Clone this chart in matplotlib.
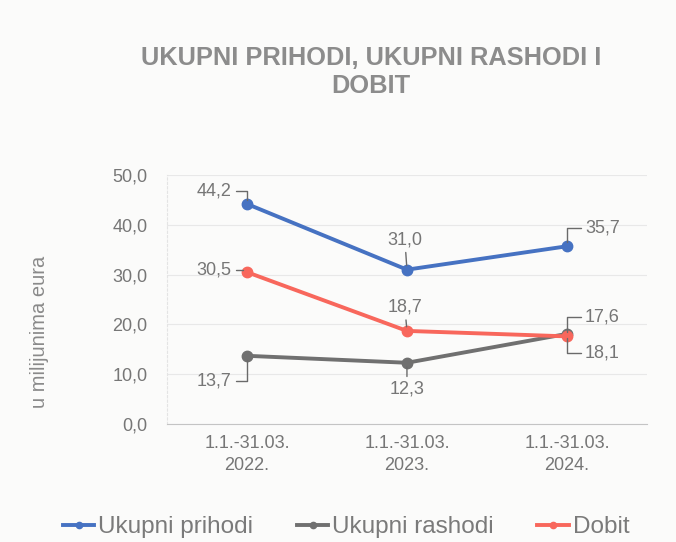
import matplotlib.pyplot as plt
import numpy as np

categories = ["1.1.-31.03.\n2022.", "1.1.-31.03.\n2023.", "1.1.-31.03.\n2024."]
prihodi = [44.2, 31.0, 35.7]
rashodi = [13.7, 12.3, 18.1]
dobit = [30.5, 18.7, 17.6]

# label offsets in points, relative to the data point
off_prihodi = [(-11, 9), (-1.5, 21.5), (13, 13)]
off_rashodi = [(-11, -18), (0, -19), (13, -14)]
off_dobit = [(-11, 1.5), (-1.5, 17), (13, 14)]

txt = "#767676"
plt.rcParams['font.family'] = ['Liberation Sans', 'DejaVu Sans']

fig = plt.figure(figsize=(6.76, 5.42), dpi=100)
fig.patch.set_facecolor("#fbfbfa")
ax = fig.add_axes([0.247, 0.2177, 0.71, 0.4593])
ax.set_facecolor("#fbfbfa")

x = np.arange(len(categories))
series = [
    ("Ukupni prihodi", prihodi, "#4672c2", off_prihodi),
    ("Ukupni rashodi", rashodi, "#707070", off_rashodi),
    ("Dobit", dobit, "#f8675c", off_dobit),
]
for name, vals, col, offs in series:
    ax.plot(x, vals, color=col, lw=2.8, marker="o", ms=7.5, label=name, zorder=3)

for name, vals, col, offs in series:
    for xi, v, (dx, dy) in zip(x, vals, offs):
        lbl = f"{v:.1f}".replace(".", ",")
        if xi == 1:
            ha, rel, cs = "center", (0.5, 0.5), "arc3"
        elif xi == 0:
            ha, rel, cs = "right", (1, 0.5), "angle,angleA=0,angleB=90,rad=0"
        else:
            ha, rel, cs = "left", (0, 0.5), "angle,angleA=0,angleB=90,rad=0"
        ax.annotate(lbl, xy=(xi, v), xytext=(dx, dy), textcoords="offset points",
                    ha=ha, va="center", fontsize=13, color=txt,
                    arrowprops=dict(arrowstyle="-", color="#6a6a6a", lw=1.0,
                                    connectionstyle=cs, relpos=rel,
                                    shrinkA=1, shrinkB=3))

ax.set_xlim(-0.5, 2.5)
ax.set_ylim(0, 50)
ax.set_yticks(np.arange(0, 51, 10))
ax.set_yticklabels([f"{t:.1f}".replace(".", ",") for t in np.arange(0, 51, 10)])
ax.set_xticks(x)
ax.set_xticklabels(categories, linespacing=1.4)
ax.tick_params(axis="both", length=0, colors=txt, labelsize=13)
ax.tick_params(axis="x", pad=8)
ax.tick_params(axis="y", pad=14)
ax.grid(axis="y", color="#e8e8e8", lw=0.8)
ax.set_axisbelow(True)
for s in ["top", "right"]:
    ax.spines[s].set_visible(False)
ax.spines["left"].set_color("#e4e4e4")
ax.spines["left"].set_linestyle((0, (2, 2)))
ax.spines["bottom"].set_color("#c4c4c4")

ax.set_ylabel("u milijunima eura", fontsize=14.5, color="#8a8a8a")
ax.yaxis.set_label_coords(-0.245, 0.37)

fig.suptitle("UKUPNI PRIHODI, UKUPNI RASHODI I\nDOBIT", x=0.549, y=0.915, va="top",
             fontsize=18.3, fontweight="bold", color="#8c8c8c", linespacing=1.2)

fig.legend(loc="center", bbox_to_anchor=(0.512, 0.027), ncol=3, frameon=False,
           fontsize=17.5, labelcolor="#7a7a7a", handlelength=1.3, handletextpad=0.15,
           columnspacing=1.8, markerscale=0.6)

fig.savefig("out.png", dpi=100, facecolor=fig.get_facecolor())
